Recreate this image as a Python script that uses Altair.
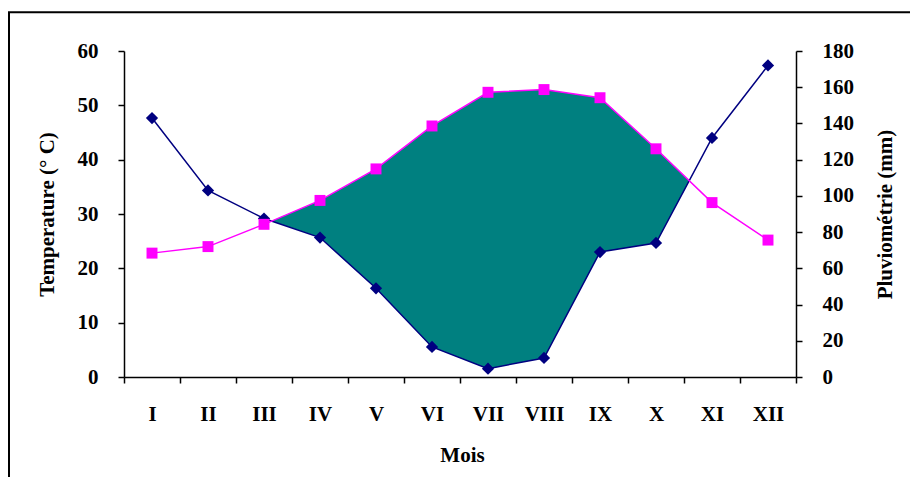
import altair as alt
import pandas as pd

months = ["I", "II", "III", "IV", "V", "VI", "VII", "VIII", "IX", "X", "XI", "XII"]
temperature = [22.8, 24.0, 28.1, 32.5, 38.3, 46.2, 52.4, 52.9, 51.4, 42.0, 32.1, 25.2]
precipitation = [143, 103, 87.5, 77, 49, 16.6, 4.6, 10.5, 69, 74, 132, 172]

FONT = "Liberation Serif"
TEAL = "#008080"
PINK = "#FF00FF"
NAVY = "#000080"

df = pd.DataFrame({
    "pos": list(range(1, 13)),
    "month": months,
    "temp": temperature,
    "precip": precipitation,
})

# dry-season fill: between P and 3T where 3T > P (incl. crossing points)
rows = []
for i in range(12):
    t3 = temperature[i] * 3
    p = precipitation[i]
    rows.append({"pos": i + 1, "top": max(t3, p), "bottom": p})
    if i < 11:
        d0 = t3 - p
        d1 = temperature[i + 1] * 3 - precipitation[i + 1]
        if d0 * d1 < 0:
            f = d0 / (d0 - d1)
            pc = p + f * (precipitation[i + 1] - p)
            rows.append({"pos": i + 1 + f, "top": pc, "bottom": pc})
fill_df = pd.DataFrame(rows)

label_arr = "[" + ",".join("'%s'" % m for m in months) + ",'']"
xaxis = alt.Axis(
    values=[i + 0.5 for i in range(13)],
    labelExpr=label_arr + "[round(datum.value - 0.5)]",
    labelOffset=28, labelFlush=False, labelOverlap=False, labelBound=False,
    labelAngle=0, tickSize=6, labelPadding=20, grid=False,
    title="Mois", titleX=338, titleY=78, titleBaseline="middle", titleAlign="center",
)
xenc = alt.X("pos:Q", scale=alt.Scale(domain=[0.5, 12.5], nice=False, zero=False), axis=xaxis)

left_axis = alt.Axis(
    values=list(range(0, 61, 10)), orient="left", grid=False,
    tickSize=6, labelPadding=20,
    title="Temperature (° C)", titleX=-77, titleY=163, titleAngle=270,
    titleAlign="center", titleBaseline="middle",
)
right_axis = alt.Axis(
    values=list(range(0, 181, 20)), orient="right", grid=False,
    tickSize=6, labelPadding=20,
    title="Pluviométrie (mm)", titleX=89, titleY=163, titleAngle=270,
    titleAlign="center", titleBaseline="middle",
)

frame = alt.Chart(pd.DataFrame({"a": [0]})).mark_rect(
    fill=None, stroke="black", strokeWidth=2
).encode(
    x=alt.value(-115), x2=alt.value(820), y=alt.value(-38.7), y2=alt.value(520)
)

area = alt.Chart(fill_df).mark_area(color=TEAL, opacity=1, interpolate="linear").encode(
    x=xenc,
    y=alt.Y("top:Q", scale=alt.Scale(domain=[0, 180]), axis=None),
    y2="bottom:Q",
)

py = alt.Y("precip:Q", scale=alt.Scale(domain=[0, 180]), axis=right_axis)
p_line = alt.Chart(df).mark_line(color=NAVY, strokeWidth=1.5).encode(x=xenc, y=py)
p_pts = alt.Chart(df).mark_point(shape="diamond", filled=True, color=NAVY, size=150, opacity=1).encode(x=xenc, y=py)
precip_layer = alt.layer(p_line, p_pts)

ty = alt.Y("temp:Q", scale=alt.Scale(domain=[0, 60]), axis=left_axis)
t_line = alt.Chart(df).mark_line(color=PINK, strokeWidth=1.5).encode(x=xenc, y=ty)
t_pts = alt.Chart(df).mark_point(shape="square", filled=True, color=PINK, size=120, opacity=1).encode(x=xenc, y=ty)
temp_layer = alt.layer(t_line, t_pts)

chart = alt.layer(frame, area, precip_layer, temp_layer).resolve_scale(
    y="independent"
).properties(
    width=672, height=326,
    autosize=alt.AutoSizeParams(type="none"),
    padding={"left": 116, "top": 43, "right": 114, "bottom": 100},
    background="white",
).configure_view(stroke=None).configure_axis(
    labelFont=FONT, labelFontWeight="bold", labelFontSize=21, labelColor="black",
    titleFont=FONT, titleFontWeight="bold", titleFontSize=21, titleColor="black",
    domainColor="black", domainWidth=1.5, tickColor="black", tickWidth=1.5,
)

chart.save("out.html", embed_options={"renderer": "svg", "actions": False})
